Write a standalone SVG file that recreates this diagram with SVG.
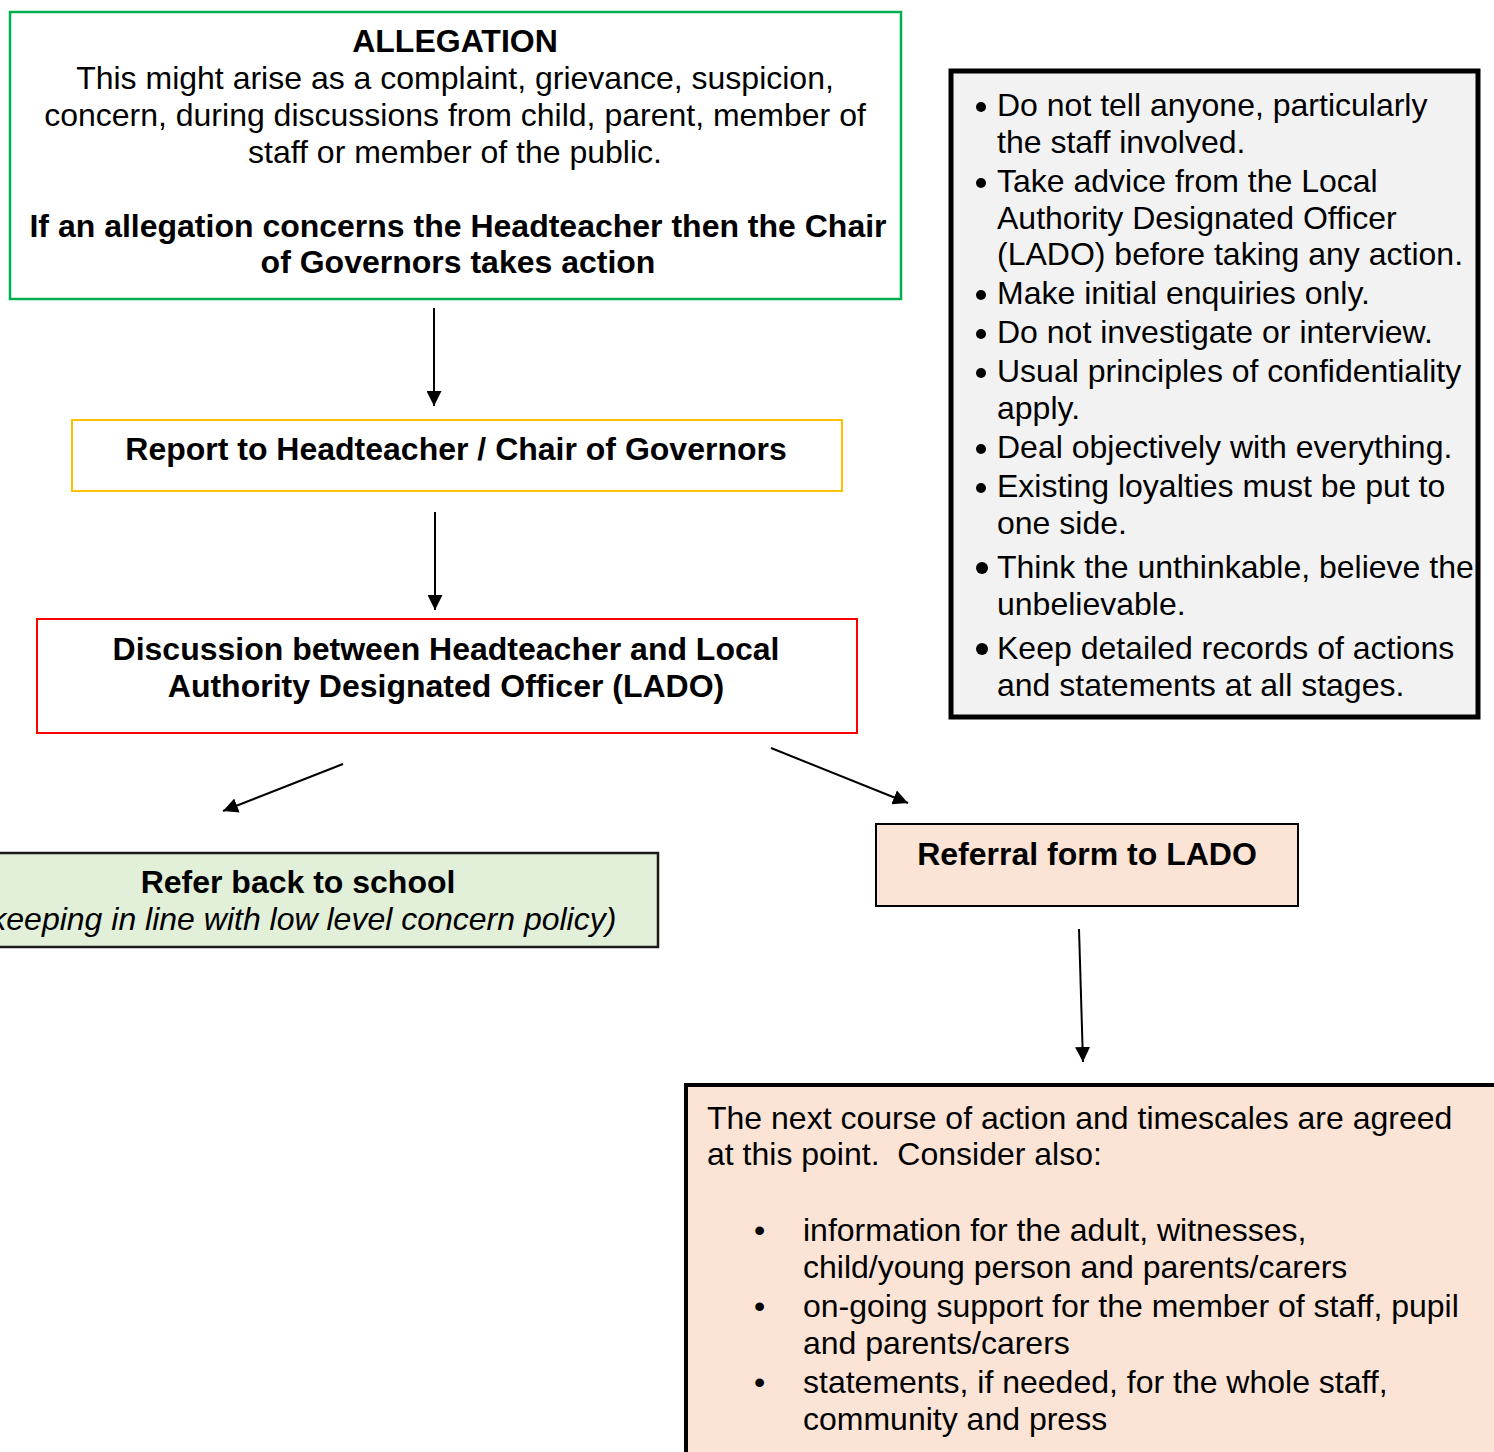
<svg xmlns="http://www.w3.org/2000/svg" width="1494" height="1452" viewBox="0 0 1494 1452">
<defs>
<style>
text{font-family:"Liberation Sans",Arial,sans-serif;font-size:32px;fill:#000}
.b{font-weight:bold}
.i{font-style:italic}
.c{text-anchor:middle}
.conn{stroke:#000;stroke-width:2;fill:none}
.dot{fill:#000}
</style>
<marker id="ah" markerWidth="15" markerHeight="15" refX="15" refY="7.5" orient="auto" markerUnits="userSpaceOnUse">
<path d="M0,0 L15,7.5 L0,15 Z" fill="#000"/>
</marker>
</defs>
<rect width="1494" height="1452" fill="#fff"/>

<g id="allegation">
<rect x="10" y="12" width="891" height="287" fill="#fff" stroke="#00b050" stroke-width="2.5"/>
<text class="b c" x="455" y="52">ALLEGATION</text>
<text class="c" x="455" y="89">This might arise as a complaint, grievance, suspicion,</text>
<text class="c" x="455" y="126">concern, during discussions from child, parent, member of</text>
<text class="c" x="455" y="163">staff or member of the public.</text>
<text class="b c" x="458" y="237">If an allegation concerns the Headteacher then the Chair</text>
<text class="b c" x="458" y="273">of Governors takes action</text>
</g>

<g id="report">
<rect x="72" y="420" width="770" height="71" fill="#fff" stroke="#ffc000" stroke-width="2"/>
<text class="b c" x="456" y="460">Report to Headteacher / Chair of Governors</text>
</g>

<g id="discussion">
<rect x="37" y="619" width="820" height="114" fill="#fff" stroke="#ff0000" stroke-width="2"/>
<text class="b c" x="446" y="660">Discussion between Headteacher and Local</text>
<text class="b c" x="446" y="697">Authority Designated Officer (LADO)</text>
</g>

<g id="refer-back">
<rect x="-10" y="853" width="668" height="94" fill="#e2efd9" stroke="#1a1a1a" stroke-width="2.5"/>
<text class="b c" x="298" y="893">Refer back to school</text>
<text class="i c" x="298" y="930">(keeping in line with low level concern policy)</text>
</g>

<g id="referral">
<rect x="876" y="824" width="422" height="82" fill="#fbe4d5" stroke="#000" stroke-width="2"/>
<text class="b c" x="1087" y="865">Referral form to LADO</text>
</g>

<g id="guidance">
<rect x="951" y="71" width="527" height="646" fill="#f2f2f2" stroke="#000" stroke-width="5"/>
<circle class="dot" cx="981" cy="107" r="5"/><text x="997" y="116">Do not tell anyone, particularly</text>
<text x="997" y="153">the staff involved.</text>
<circle class="dot" cx="981" cy="183" r="5"/><text x="997" y="192">Take advice from the Local</text>
<text x="997" y="229">Authority Designated Officer</text>
<text x="997" y="265">(LADO) before taking any action.</text>
<circle class="dot" cx="981" cy="295" r="5"/><text x="997" y="304">Make initial enquiries only.</text>
<circle class="dot" cx="981" cy="334" r="5"/><text x="997" y="343">Do not investigate or interview.</text>
<circle class="dot" cx="981" cy="373" r="5"/><text x="997" y="382">Usual principles of confidentiality</text>
<text x="997" y="419">apply.</text>
<circle class="dot" cx="981" cy="449" r="5"/><text x="997" y="458">Deal objectively with everything.</text>
<circle class="dot" cx="981" cy="488" r="5"/><text x="997" y="497">Existing loyalties must be put to</text>
<text x="997" y="534">one side.</text>
<circle class="dot" cx="982" cy="568" r="6"/><text x="997" y="578">Think the unthinkable, believe the</text>
<text x="997" y="615">unbelievable.</text>
<circle class="dot" cx="982" cy="649" r="6"/><text x="997" y="659">Keep detailed records of actions</text>
<text x="997" y="696">and statements at all stages.</text>
</g>

<g id="next-steps">
<rect x="686" y="1085" width="830" height="400" fill="#fbe4d5" stroke="#000" stroke-width="4"/>
<text x="707" y="1129">The next course of action and timescales are agreed</text>
<text x="707" y="1165" xml:space="preserve">at this point.  Consider also:</text>
<text x="754" y="1241">•</text><text x="803" y="1241">information for the adult, witnesses,</text>
<text x="803" y="1278">child/young person and parents/carers</text>
<text x="754" y="1317">•</text><text x="803" y="1317">on-going support for the member of staff, pupil</text>
<text x="803" y="1354">and parents/carers</text>
<text x="754" y="1393">•</text><text x="803" y="1393">statements, if needed, for the whole staff,</text>
<text x="803" y="1430">community and press</text>
</g>

<g id="connectors">
<line class="conn" x1="434" y1="308" x2="434" y2="406" marker-end="url(#ah)"/>
<line class="conn" x1="435" y1="512" x2="435" y2="610" marker-end="url(#ah)"/>
<line class="conn" x1="343" y1="764" x2="223" y2="811" marker-end="url(#ah)"/>
<line class="conn" x1="771" y1="748" x2="908" y2="803" marker-end="url(#ah)"/>
<line class="conn" x1="1079" y1="929" x2="1083" y2="1062" marker-end="url(#ah)"/>
</g>
</svg>
